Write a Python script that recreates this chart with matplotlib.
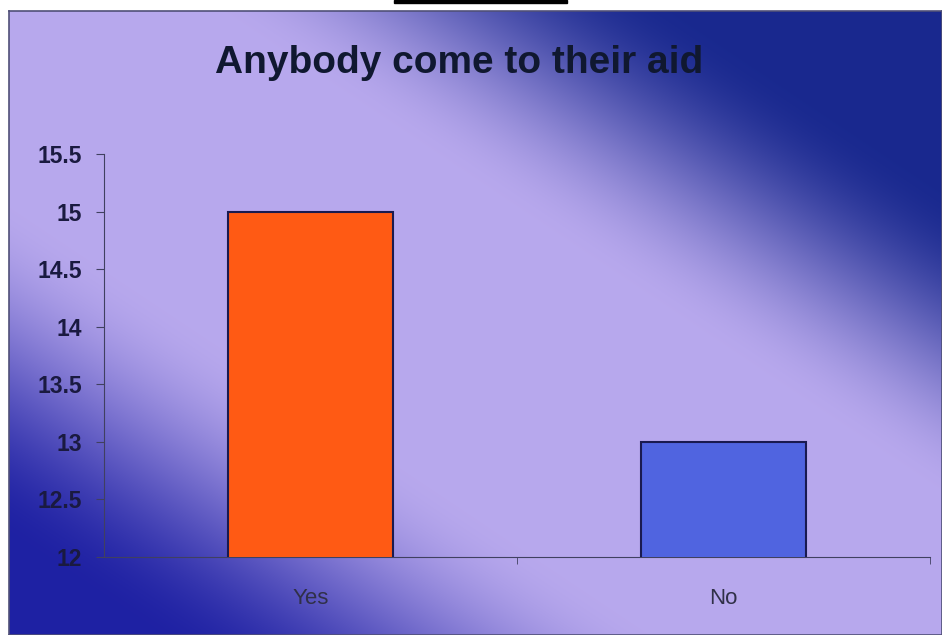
import numpy as np
import matplotlib
matplotlib.use("Agg")
import matplotlib.pyplot as plt

# --- Data ---
categories = ["Yes", "No"]
values = [15, 13]
bar_colors = ["#FF5A14", "#5064E0"]
y_ticks = [12, 12.5, 13, 13.5, 14, 14.5, 15, 15.5]
y_tick_labels = ["12", "12.5", "13", "13.5", "14", "14.5", "15", "15.5"]
title = "Anybody come to their aid"

W, H = 942, 635
plt.rcParams["font.family"] = ["Liberation Sans", "DejaVu Sans"]

fig = plt.figure(figsize=(W / 100, H / 100), dpi=100, facecolor="white")

# --- Background gradient (slide style) ---
bg = fig.add_axes([9 / W, 0, (W - 9) / W, (H - 11) / H])
gw, gh = 400, 270
u, v = np.meshgrid(np.linspace(0, 1, gw), np.linspace(0, 1, gh))
d = u - v
lo = np.where(d > 0, 0.22, 0.3)
span = np.where(d > 0, 0.5, 0.55)
t = np.clip((np.abs(d) - lo) / span, 0, 1)
t = t * t * (3 - 2 * t)
light = np.array([0.72, 0.66, 0.93])
dark_tr = np.array([0.10, 0.16, 0.56])
dark_bl = np.array([0.12, 0.13, 0.64])
dark = np.where((d > 0)[..., None], dark_tr, dark_bl)
img = light * (1 - t[..., None]) + dark * t[..., None]
bg.imshow(img, extent=[0, 1, 0, 1], aspect="auto", interpolation="bilinear")
bg.set_xticks([])
bg.set_yticks([])
for s in bg.spines.values():
    s.set_color("#505078")
    s.set_linewidth(1.2)

# thin black tab at the top
fig.patches.append(plt.Rectangle((394 / W, (H - 3) / H), 173 / W, 3 / H,
                                 transform=fig.transFigure, color="black"))

# --- Chart ---
ax = fig.add_axes([104 / W, (H - 557) / H, (930 - 104) / W, (557 - 154) / H])
ax.patch.set_alpha(0)
x = np.arange(len(categories))
ax.bar(x, values, width=0.4, color=bar_colors, edgecolor="#1a1a50", linewidth=1.5, zorder=3)
ax.set_xlim(-0.5, 1.5)
ax.set_ylim(12, 15.5)
ax.set_yticks(y_ticks)
ax.set_yticklabels(y_tick_labels, fontsize=16.5, color="#1a1a40", fontweight="bold")
ax.set_xticks(x)
ax.set_xticklabels(categories, fontsize=16, color="#303048")
ax.set_xticks([0.5, 1.5], minor=True)
ax.tick_params(axis="x", which="major", length=0, pad=22)
ax.tick_params(axis="x", which="minor", length=5, color="#404060", direction="out")
ax.tick_params(axis="y", length=6, color="#404060", pad=10)
for s in ["top", "right"]:
    ax.spines[s].set_visible(False)
ax.spines["left"].set_color("#404060")
ax.spines["bottom"].set_color("#404060")

fig.text(459 / W, 1 - 63 / H, title, fontsize=28, fontweight="bold",
         color="#101830", ha="center", va="center")

fig.savefig("out.png", dpi=100, facecolor="white")
